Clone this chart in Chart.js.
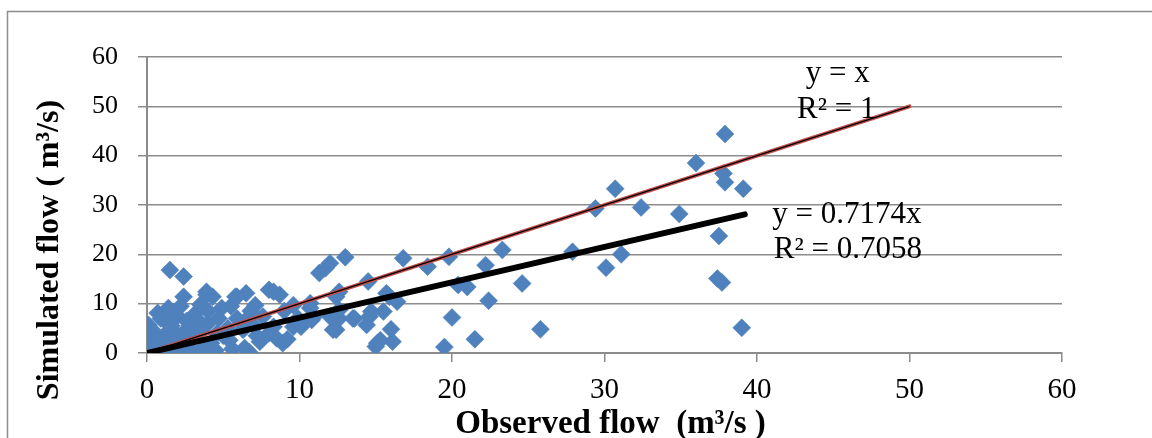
<!DOCTYPE html>
<html>
<head>
<meta charset="utf-8">
<script src="https://cdn.jsdelivr.net/npm/chart.js@4.4.1/dist/chart.umd.min.js"></script>
<style>
  html, body { margin: 0; padding: 0; background: #fff; }
  #wrap { position: relative; width: 1152px; height: 438px; }
</style>
</head>
<body>
<div id="wrap"><canvas id="flow-chart"></canvas></div>
<script>
// Observed vs simulated flow (m3/s)
const observed = [
  37.9, 36.0, 37.8, 37.9, 39.1, 30.7, 29.4, 32.4, 34.9, 37.5,
  27.9, 31.1, 30.1, 37.4, 37.7, 39.0, 25.8, 23.3, 22.2, 20.4,
  21.0, 24.6, 22.4, 20.0, 21.5, 19.5, 19.8, 18.4, 16.8, 13.0,
  12.0, 11.3, 11.7, 14.5, 12.6, 15.9, 16.4, 15.7, 10.7, 10.9,
  12.6, 13.5, 14.7, 15.5, 12.4, 14.4, 16.0, 15.1, 16.1, 10.1,
  12.4, 12.6, 12.0, 13.6, 14.6, 15.3, 15.0, 10.7, 12.2, 5.9,
  6.5, 8.0, 8.7, 7.1, 9.6, 9.9, 7.6, 5.9, 6.3, 8.3,
  9.6, 6.7, 8.9, 7.4, 5.4, 6.4, 6.4, 7.2, 8.0, 9.0,
  6.8, 5.5, 8.5, 7.0, 9.2, 1.5, 2.4, 2.4, 4.3, 3.9,
  5.8, 0.7, 1.4, 0.1, 3.2, 4.9, 4.7, 5.3, 1.8, 0.5,
  0.0, 1.0, 3.6, 2.5, 1.2, 2.0, 2.8, 3.5, 4.0, 0.3,
  0.6, 0.2, 0.8, 1.5, 2.0, 2.8, 3.0, 4.2, 4.5, 1.1,
  0.4, 2.2, 3.5, 4.0, 1.8, 0.9, 3.8, 5.0, 2.6, 0.3,
  0.1, 0.5, 1.3, 2.3, 4.6, 3.3, 1.6, 5.6, 0.2, 8.3,
  10.8, 3.9
];
const simulated = [
  44.4, 38.5, 36.4, 34.6, 33.3, 33.3, 29.3, 29.5, 28.2, 23.7,
  20.5, 20.0, 17.3, 15.1, 14.3, 5.1, 4.8, 20.9, 17.8, 13.8,
  13.4, 14.1, 10.6, 7.2, 2.8, 1.2, 19.5, 17.5, 19.2, 19.4,
  18.2, 16.2, 17.2, 14.5, 12.4, 11.4, 10.4, 12.1, 9.1, 7.2,
  7.0, 7.0, 8.4, 8.4, 4.7, 5.7, 4.8, 2.0, 2.3, 5.3,
  11.4, 8.7, 7.4, 7.0, 7.4, 2.6, 1.3, 10.1, 4.7, 11.4,
  12.1, 12.8, 11.8, 9.7, 9.7, 7.0, 7.4, 7.0, 4.7, 5.3,
  5.3, 0.2, 2.0, 2.3, 2.6, 6.4, 1.0, 3.5, 4.0, 8.5,
  8.5, 9.5, 3.0, 5.5, 2.8, 16.8, 15.5, 11.4, 11.4, 12.4,
  11.4, 8.1, 9.1, 5.7, 8.1, 9.1, 7.0, 5.0, 4.3, 3.0,
  0.3, 0.0, 0.3, 2.3, 6.5, 7.5, 5.5, 4.5, 6.0, 1.5,
  0.5, 0.1, 2.0, 1.2, 0.5, 1.0, 3.0, 2.0, 0.5, 3.5,
  4.5, 9.5, 9.8, 8.5, 2.8, 7.0, 1.5, 3.5, 6.5, 2.5,
  0.8, 1.2, 0.3, 3.8, 4.0, 6.8, 5.5, 0.8, 3.5, 12.4,
  6.7, 11.8
];

// 1:1 line and the fitted trendline (end points)
const oneToOneX = [0, 50];
const oneToOneY = [0, 50];
const fitX = [0, 39.2];
const fitY = [0, 28.1];

const axisMin = 0;
const axisMax = 60;
const tickStep = 10;

const xTitle = 'Observed flow  (m³/s )';
const yTitle = 'Simulated flow ( m³/s)';
const trendLabels = ['y = x', 'R² = 1', 'y = 0.7174x', 'R² = 0.7058'];

function toPoints(xs, ys) {
  return xs.map((x, i) => ({ x: x, y: ys[i] }));
}

const SERIF = "'Liberation Serif', 'Times New Roman', serif";
const GRID = '#8c8c8c';

// frame, axis titles and trendline equations
const decorations = {
  id: 'decorations',
  beforeDraw(chart) {
    const ctx = chart.ctx;
    ctx.save();
    ctx.fillStyle = '#fff';
    ctx.fillRect(0, 0, chart.width, chart.height);
    ctx.strokeStyle = GRID;
    ctx.lineWidth = 1.5;
    ctx.strokeRect(7.5, 11.5, chart.width + 20, chart.height + 20);
    ctx.restore();
  },
  afterDraw(chart) {
    const ctx = chart.ctx;
    const area = chart.chartArea;
    const xs = chart.scales.x;
    const ys = chart.scales.y;
    ctx.save();
    ctx.fillStyle = '#000';

    ctx.font = 'bold 33px ' + SERIF;
    ctx.textAlign = 'center';
    ctx.textBaseline = 'alphabetic';
    ctx.fillText(xTitle, (area.left + area.right) / 2 + 6, 433);

    ctx.save();
    ctx.translate(58, 250);
    ctx.rotate(-Math.PI / 2);
    ctx.font = 'bold 32px ' + SERIF;
    ctx.fillText(yTitle, 0, 0);
    ctx.restore();

    ctx.font = '31px ' + SERIF;
    ctx.textAlign = 'center';
    ctx.fillText(trendLabels[0], xs.getPixelForValue(45.3), ys.getPixelForValue(55.0));
    ctx.fillText(trendLabels[1], xs.getPixelForValue(45.2), ys.getPixelForValue(47.6));
    ctx.textAlign = 'left';
    ctx.fillText(trendLabels[2], xs.getPixelForValue(41.0), ys.getPixelForValue(26.4));
    ctx.fillText(trendLabels[3], xs.getPixelForValue(41.1), ys.getPixelForValue(19.3));
    ctx.restore();
  }
};

const ctx = document.getElementById('flow-chart').getContext('2d');
const flowChart = new Chart(ctx, {
  type: 'scatter',
  data: {
    datasets: [{
      label: 'Fitted',
      data: toPoints(fitX, fitY),
      showLine: true,
      borderColor: '#000',
      borderWidth: 6,
      borderCapStyle: 'round',
      pointRadius: 0,
      order: 0
    }, {
      label: '1:1 trend',
      data: toPoints(oneToOneX, oneToOneY),
      showLine: true,
      borderColor: '#000',
      borderWidth: 1.2,
      pointRadius: 0,
      order: 1
    }, {
      label: '1:1',
      data: toPoints(oneToOneX, oneToOneY),
      showLine: true,
      borderColor: '#C0504D',
      borderWidth: 4,
      borderCapStyle: 'round',
      pointRadius: 0,
      order: 2
    }, {
      label: 'Flow',
      data: toPoints(observed, simulated),
      pointStyle: 'rectRot',
      pointRadius: 9,
      backgroundColor: '#4F81BD',
      borderColor: '#4F81BD',
      borderWidth: 0.5,
      order: 3
    }]
  },
  options: {
    responsive: true,
    maintainAspectRatio: false,
    animation: false,
    layout: { padding: { top: 57, right: 90, left: 0, bottom: 0 } },
    plugins: {
      legend: { display: false },
      tooltip: { enabled: false }
    },
    scales: {
      x: {
        type: 'linear',
        min: axisMin,
        max: axisMax,
        ticks: {
          stepSize: tickStep,
          color: '#000',
          padding: 11,
          font: { family: SERIF, size: 29 }
        },
        grid: {
          drawOnChartArea: false,
          drawTicks: true,
          tickLength: 9,
          color: GRID,
          lineWidth: 1.5
        },
        border: { color: GRID, width: 2 },
        afterFit(scale) { scale.height = 85; }
      },
      y: {
        type: 'linear',
        min: axisMin,
        max: axisMax,
        ticks: {
          stepSize: tickStep,
          color: '#000',
          padding: 20,
          font: { family: SERIF, size: 26 }
        },
        grid: {
          tickLength: 9,
          color: GRID,
          lineWidth: 1.5
        },
        border: { color: GRID, width: 2 },
        afterFit(scale) { scale.width = 147; }
      }
    }
  },
  plugins: [decorations]
});
</script>
</body>
</html>
